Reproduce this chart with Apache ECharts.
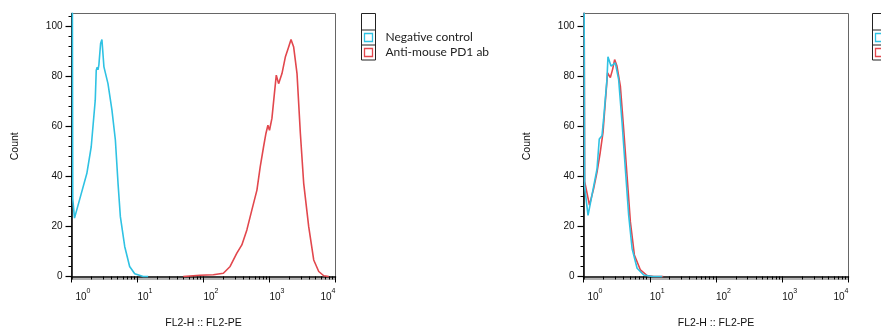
<!DOCTYPE html>
<html><head><meta charset="utf-8">
<script src="https://cdn.jsdelivr.net/npm/echarts@6/dist/echarts.min.js"></script>
<style>html,body{margin:0;padding:0;background:#fff}#c{width:881px;height:329px}</style>
</head><body><div id="c"></div>
<script>
// ---------- data ----------
const seriesNames = ['Negative control', 'Anti-mouse PD1 ab'];
const xAxisTitle = 'FL2-H :: FL2-PE';
const yAxisTitle = 'Count';
const yTicks = [0, 20, 40, 60, 80, 100];
const yMinorTicks = [0, 4, 8, 12, 16, 20, 24, 28, 32, 36, 40, 44, 48, 52, 56, 60, 64, 68, 72, 76, 80, 84, 88, 92, 96, 100, 104];
const xMinorTicks = [2, 3, 4, 5, 6, 7, 8, 9, 20, 30, 40, 50, 60, 70, 80, 90, 200, 300, 400, 500, 600, 700, 800, 900, 2000, 3000, 4000, 5000, 6000, 7000, 8000, 9000];

// left panel
const leftNegX = [1.03, 1.045, 1.11, 1.32, 1.71, 1.99, 2.29, 2.37, 2.45, 2.52, 2.6, 2.76, 2.89, 3.10, 3.57, 4.10, 4.62, 5.07, 5.5, 6.4, 7.6, 9.08, 12.2, 14.5];
const leftNegY = [120, 31, 23.3, 30.5, 41.2, 51.8, 70.4, 82.3, 83.5, 82.5, 84.5, 93, 94.6, 83.7, 77, 66.4, 54.5, 37.2, 23.9, 12, 4, 1.1, 0, 0];
const leftPd1X = [49.3, 88.5, 141, 200, 253, 320, 381, 454, 541, 645, 723, 813, 883, 946, 1000, 1088, 1180, 1267, 1374, 1545, 1737, 1950, 2118, 2324, 2612, 2936, 3297, 3927, 4677, 5572, 6638, 7909];
const leftPd1Y = [0, 0.5, 0.7, 1.3, 4, 9.3, 12.6, 18.6, 26.6, 34.5, 43.8, 51.8, 57.1, 60.4, 58.4, 63.1, 72.4, 80.4, 77, 81, 87.6, 91.6, 94.6, 91.6, 81, 57.1, 37.2, 19.9, 6.6, 2, 0.3, 0];

// right panel
const rightNegX = [1.02, 1.04, 1.17, 1.34, 1.6, 1.73, 1.90, 2.01, 2.26, 2.34, 2.60, 2.79, 3.02, 3.39, 3.82, 4.28, 4.81, 5.41, 6.44, 8.11, 10.9, 15.4];
const rightNegY = [120, 36, 24.4, 32.4, 43, 54.9, 56.2, 62.8, 78.7, 87.7, 84, 84.6, 85.3, 78.7, 61.5, 43, 24.4, 11.2, 3.3, 0.6, 0, 0];
const rightPd1X = [1.02, 1.04, 1.23, 1.42, 1.6, 1.79, 1.97, 2.13, 2.31, 2.54, 2.75, 2.95, 3.2, 3.6, 4.04, 4.54, 5.1, 5.86, 7.23, 9.12, 11.5, 16];
const rightPd1Y = [120, 38, 28.5, 35, 41.7, 49.6, 57.5, 69.4, 81.3, 79.4, 82.7, 86.6, 84, 76, 58.8, 40.3, 21.8, 8.6, 2.6, 0.4, 0, 0];

// ---------- styles ----------
const CYAN = '#2fc2e3';
const RED = '#e2474d';
const FONT = 'Liberation Sans, Arial, sans-serif';

function zip(xs, ys) { return xs.map((x, i) => [x, ys[i]]); }

const grids = [
  { left: 71.5, top: 13.5, width: 264, height: 265.5 },
  { left: 583.5, top: 13.5, width: 265, height: 265.5 }
];

const xAxes = [], yAxes = [];
grids.forEach((g, gi) => {
  xAxes.push({
    gridIndex: gi, type: 'log', logBase: 10, min: 1, max: 10000, position: 'bottom',
    axisLine: { show: true, lineStyle: { color: '#000', width: 1.5 } },
    axisTick: { show: true, length: 6, lineStyle: { color: '#000', width: 1 } },
    splitLine: { show: false },
    axisLabel: {
      show: true, margin: 9, align: 'left', alignMaxLabel: 'right',
      formatter: function (v) {
        const e = Math.round(Math.log10(v));
        return (e === 0 ? '{b0|10}' : '{b|10}') + '{s|' + e + '}';
      },
      rich: {
        b: { fontFamily: FONT, fontSize: 10, color: '#111', verticalAlign: 'bottom' },
        b0: { fontFamily: FONT, fontSize: 10, color: '#111', verticalAlign: 'bottom', padding: [0, 0, 0, 4] },
        s: { fontFamily: FONT, fontSize: 7, color: '#111', verticalAlign: 'bottom', padding: [0, 0, 7, 0] }
      }
    },
    name: xAxisTitle, nameLocation: 'middle', nameGap: 39,
    nameTextStyle: { fontFamily: FONT, fontSize: 10.5, color: '#111' }
  });
  xAxes.push({
    gridIndex: gi, type: 'log', logBase: 10, min: 1, max: 10000, position: 'bottom',
    axisLine: { show: false },
    axisTick: { show: true, length: 3, customValues: xMinorTicks, lineStyle: { color: '#000', width: 1 } },
    axisLabel: { show: false },
    splitLine: { show: false }
  });
  yAxes.push({
    gridIndex: gi, type: 'value', min: -1, max: 105, position: 'left',
    axisLine: { show: true, lineStyle: { color: '#000', width: 1.5 } },
    axisTick: { show: true, length: 6, customValues: yTicks, lineStyle: { color: '#000', width: 1.2 } },
    axisLabel: { show: true, customValues: yTicks, margin: 9, fontFamily: FONT, fontSize: 10, color: '#111' },
    splitLine: { show: false },
    name: yAxisTitle, nameLocation: 'middle', nameGap: 51,
    nameTextStyle: { fontFamily: FONT, fontSize: 10.5, color: '#111' }
  });
  yAxes.push({
    gridIndex: gi, type: 'value', min: -1, max: 105, position: 'left',
    axisLine: { show: false },
    axisTick: { show: true, length: 3, customValues: yMinorTicks, lineStyle: { color: '#000', width: 1 } },
    axisLabel: { show: false },
    splitLine: { show: false }
  });
});

function lineSeries(name, color, xi, yi, xs, ys) {
  return {
    name: name, type: 'line', xAxisIndex: xi, yAxisIndex: yi,
    data: zip(xs, ys), showSymbol: false, symbol: 'none', smooth: false, clip: true,
    lineStyle: { color: color, width: 1.6 }, itemStyle: { color: color },
    emphasis: { disabled: true }, animation: false
  };
}

const series = [
  lineSeries(seriesNames[0], CYAN, 0, 0, leftNegX, leftNegY),
  lineSeries(seriesNames[1], RED, 0, 0, leftPd1X, leftPd1Y),
  lineSeries(seriesNames[1], RED, 2, 2, rightPd1X, rightPd1Y),
  lineSeries(seriesNames[0], CYAN, 2, 2, rightNegX, rightNegY)
];

function legendBox(x, withText) {
  const els = [
    { type: 'rect', shape: { x: x, y: 13.5, width: 14, height: 46.5 }, style: { fill: '#fff', stroke: '#222', lineWidth: 1 } },
    { type: 'line', shape: { x1: x, y1: 30, x2: x + 14, y2: 30 }, style: { stroke: '#222', lineWidth: 1 } },
    { type: 'line', shape: { x1: x, y1: 45, x2: x + 14, y2: 45 }, style: { stroke: '#222', lineWidth: 1 } },
    { type: 'rect', shape: { x: x + 3, y: 33.5, width: 8, height: 8 }, style: { fill: '#fff', stroke: CYAN, lineWidth: 1.3 } },
    { type: 'rect', shape: { x: x + 3, y: 48.5, width: 8, height: 8 }, style: { fill: '#fff', stroke: RED, lineWidth: 1.3 } }
  ];
  if (withText) {
    els.push({ type: 'text', x: x + 24, y: 37.5, style: { text: seriesNames[0], fontFamily: 'Lato, sans-serif', fontSize: 12, fill: '#222', verticalAlign: 'middle' } });
    els.push({ type: 'text', x: x + 24, y: 52.5, style: { text: seriesNames[1], fontFamily: 'Lato, sans-serif', fontSize: 12, fill: '#222', verticalAlign: 'middle' } });
  }
  return els;
}

const option = {
  animation: false,
  backgroundColor: '#fff',
  grid: grids.map(g => Object.assign({ show: true, borderColor: '#666', borderWidth: 1, backgroundColor: 'transparent', containLabel: false, outerBoundsMode: 'none' }, g)),
  xAxis: xAxes,
  yAxis: yAxes,
  series: series,
  graphic: legendBox(361.5, true).concat(legendBox(872.5, false))
};

const chart = echarts.init(document.getElementById('c'), null, { renderer: 'canvas' });
chart.setOption(option);
</script>
</body></html>
